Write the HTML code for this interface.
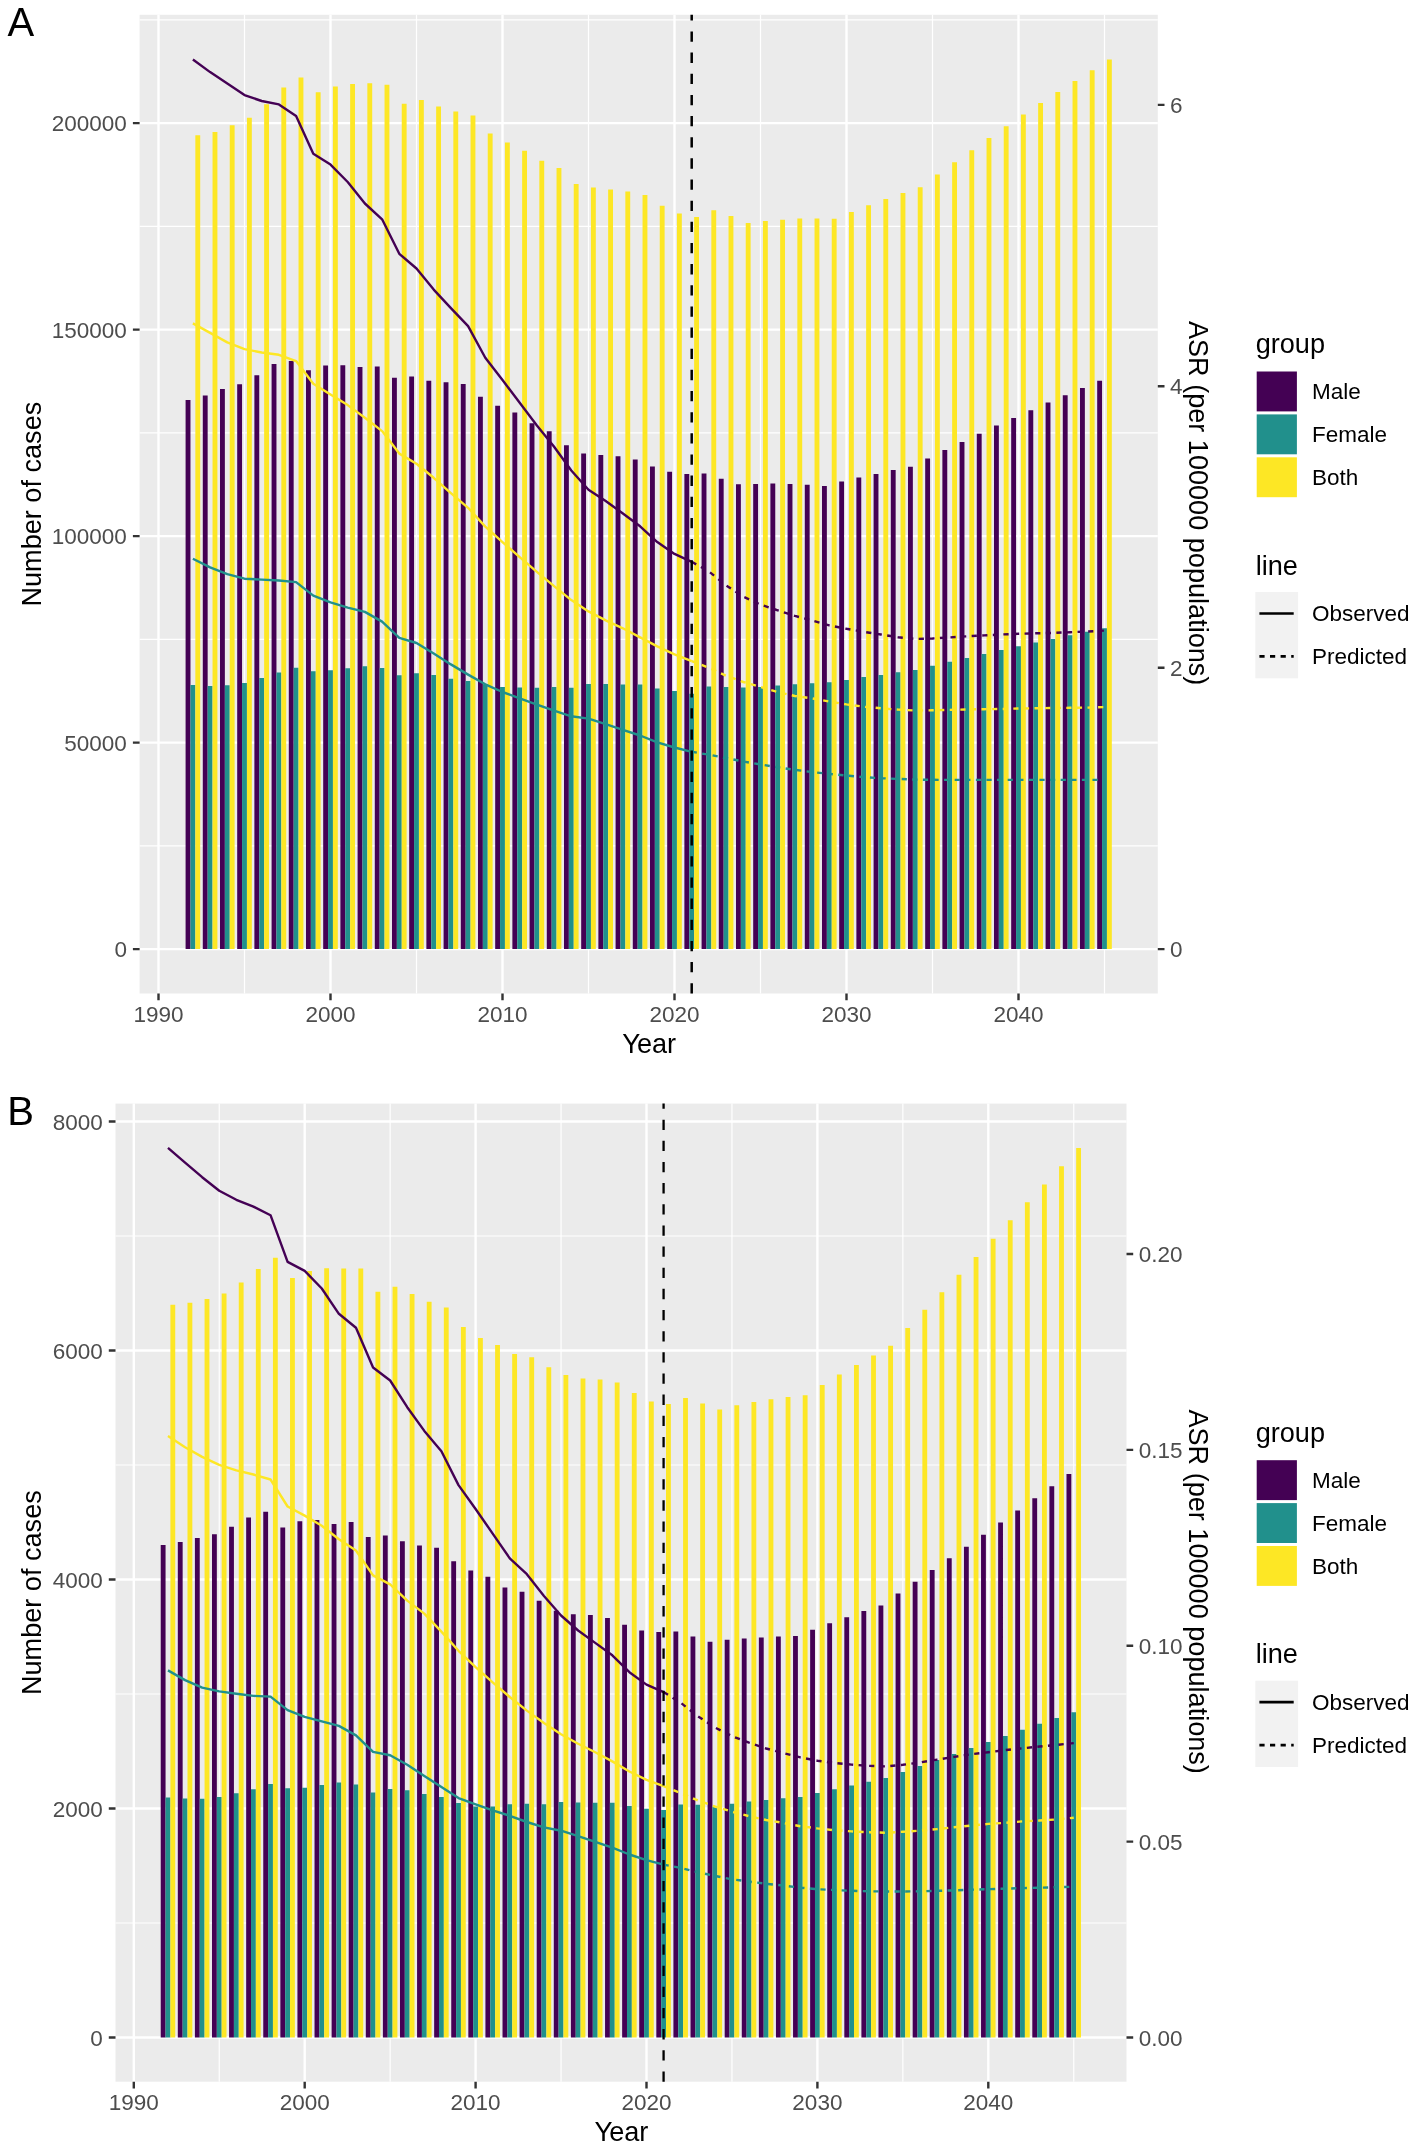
<!DOCTYPE html>
<html><head><meta charset="utf-8"><title>Figure</title>
<style>
html,body{margin:0;padding:0;background:#fff;}
svg{display:block;font-family:"Liberation Sans",sans-serif;will-change:transform;}
</style></head>
<body>
<svg width="1418" height="2153" viewBox="0 0 1418 2153">
<rect width="1418" height="2153" fill="#fff"/>
<rect x="139.6" y="14.8" width="1018.2" height="978.7" fill="#EBEBEB"/>
<path d="M139.6 845.85H1157.8M139.6 639.35H1157.8M139.6 432.85H1157.8M139.6 226.35H1157.8M139.6 19.85H1157.8M244.5 14.8V993.5M416.5 14.8V993.5M588.5 14.8V993.5M760.5 14.8V993.5M932.5 14.8V993.5M1104.5 14.8V993.5" stroke="#fff" stroke-width="1.2" fill="none"/>
<path d="M139.6 949.1H1157.8M139.6 742.6H1157.8M139.6 536.1H1157.8M139.6 329.6H1157.8M139.6 123.1H1157.8M158.5 14.8V993.5M330.5 14.8V993.5M502.5 14.8V993.5M674.5 14.8V993.5M846.5 14.8V993.5M1018.5 14.8V993.5" stroke="#fff" stroke-width="2.4" fill="none"/>
<path d="M185.59 949.1V399.9h4.87V949.1zM202.79 949.1V395.4h4.87V949.1zM219.99 949.1V389.1h4.87V949.1zM237.19 949.1V384.3h4.87V949.1zM254.39 949.1V375.3h4.87V949.1zM271.59 949.1V364h4.87V949.1zM288.79 949.1V361.1h4.87V949.1zM305.99 949.1V370.3h4.87V949.1zM323.19 949.1V365.4h4.87V949.1zM340.39 949.1V365.2h4.87V949.1zM357.59 949.1V367h4.87V949.1zM374.79 949.1V366.5h4.87V949.1zM391.99 949.1V377.8h4.87V949.1zM409.19 949.1V376.4h4.87V949.1zM426.39 949.1V380.7h4.87V949.1zM443.59 949.1V382.3h4.87V949.1zM460.79 949.1V383.9h4.87V949.1zM477.99 949.1V396.7h4.87V949.1zM495.19 949.1V405.8h4.87V949.1zM512.39 949.1V412.5h4.87V949.1zM529.59 949.1V423.2h4.87V949.1zM546.79 949.1V431.3h4.87V949.1zM563.99 949.1V445.3h4.87V949.1zM581.19 949.1V453.6h4.87V949.1zM598.39 949.1V455h4.87V949.1zM615.59 949.1V456.3h4.87V949.1zM632.79 949.1V459.5h4.87V949.1zM649.99 949.1V466.5h4.87V949.1zM667.19 949.1V471.7h4.87V949.1zM684.39 949.1V473.9h4.87V949.1zM701.59 949.1V473.5h4.87V949.1zM718.79 949.1V478.7h4.87V949.1zM735.99 949.1V484.3h4.87V949.1zM753.19 949.1V483.9h4.87V949.1zM770.39 949.1V483.6h4.87V949.1zM787.59 949.1V483.9h4.87V949.1zM804.79 949.1V484.8h4.87V949.1zM821.99 949.1V485.9h4.87V949.1zM839.19 949.1V481.6h4.87V949.1zM856.39 949.1V477.5h4.87V949.1zM873.59 949.1V473.9h4.87V949.1zM890.79 949.1V470.1h4.87V949.1zM907.99 949.1V466.7h4.87V949.1zM925.19 949.1V458.4h4.87V949.1zM942.39 949.1V450h4.87V949.1zM959.59 949.1V441.9h4.87V949.1zM976.79 949.1V433.8h4.87V949.1zM993.99 949.1V425.6h4.87V949.1zM1011.19 949.1V418h4.87V949.1zM1028.39 949.1V410.3h4.87V949.1zM1045.59 949.1V402.6h4.87V949.1zM1062.79 949.1V395.2h4.87V949.1zM1079.99 949.1V387.9h4.87V949.1zM1097.19 949.1V380.7h4.87V949.1z" fill="#440154"/>
<path d="M190.46 949.1V685h4.87V949.1zM207.66 949.1V686.1h4.87V949.1zM224.86 949.1V685.2h4.87V949.1zM242.06 949.1V682.9h4.87V949.1zM259.26 949.1V678h4.87V949.1zM276.46 949.1V672.6h4.87V949.1zM293.66 949.1V667.8h4.87V949.1zM310.86 949.1V671.2h4.87V949.1zM328.06 949.1V670.3h4.87V949.1zM345.26 949.1V668.3h4.87V949.1zM362.46 949.1V666.2h4.87V949.1zM379.66 949.1V668h4.87V949.1zM396.86 949.1V675.3h4.87V949.1zM414.06 949.1V673.2h4.87V949.1zM431.26 949.1V675h4.87V949.1zM448.46 949.1V678.7h4.87V949.1zM465.66 949.1V681.1h4.87V949.1zM482.86 949.1V684.3h4.87V949.1zM500.06 949.1V687h4.87V949.1zM517.26 949.1V687.5h4.87V949.1zM534.46 949.1V687.7h4.87V949.1zM551.66 949.1V687h4.87V949.1zM568.86 949.1V687.7h4.87V949.1zM586.06 949.1V684.1h4.87V949.1zM603.26 949.1V684.1h4.87V949.1zM620.46 949.1V684.5h4.87V949.1zM637.66 949.1V684.5h4.87V949.1zM654.86 949.1V688.6h4.87V949.1zM672.06 949.1V691.1h4.87V949.1zM689.26 949.1V693.8h4.87V949.1zM706.46 949.1V686.6h4.87V949.1zM723.66 949.1V687h4.87V949.1zM740.86 949.1V687.5h4.87V949.1zM758.06 949.1V687h4.87V949.1zM775.26 949.1V685.4h4.87V949.1zM792.46 949.1V684.3h4.87V949.1zM809.66 949.1V683.2h4.87V949.1zM826.86 949.1V682.3h4.87V949.1zM844.06 949.1V680.1h4.87V949.1zM861.26 949.1V676.9h4.87V949.1zM878.46 949.1V674.9h4.87V949.1zM895.66 949.1V672.2h4.87V949.1zM912.86 949.1V670.1h4.87V949.1zM930.06 949.1V665.8h4.87V949.1zM947.26 949.1V661.8h4.87V949.1zM964.46 949.1V657.9h4.87V949.1zM981.66 949.1V654.1h4.87V949.1zM998.86 949.1V650h4.87V949.1zM1016.06 949.1V646.2h4.87V949.1zM1033.26 949.1V642.6h4.87V949.1zM1050.46 949.1V639h4.87V949.1zM1067.66 949.1V635.2h4.87V949.1zM1084.86 949.1V631.8h4.87V949.1zM1102.06 949.1V628.2h4.87V949.1z" fill="#21908C"/>
<path d="M195.34 949.1V135.3h4.87V949.1zM212.54 949.1V132.1h4.87V949.1zM229.74 949.1V125.2h4.87V949.1zM246.94 949.1V117.7h4.87V949.1zM264.14 949.1V104.2h4.87V949.1zM281.34 949.1V87.5h4.87V949.1zM298.54 949.1V77.5h4.87V949.1zM315.74 949.1V92.2h4.87V949.1zM332.94 949.1V86.6h4.87V949.1zM350.14 949.1V83.9h4.87V949.1zM367.34 949.1V83.2h4.87V949.1zM384.54 949.1V84.8h4.87V949.1zM401.74 949.1V103.7h4.87V949.1zM418.94 949.1V100.1h4.87V949.1zM436.14 949.1V106.6h4.87V949.1zM453.34 949.1V111.4h4.87V949.1zM470.54 949.1V115.4h4.87V949.1zM487.74 949.1V133.5h4.87V949.1zM504.94 949.1V142.5h4.87V949.1zM522.14 949.1V150.7h4.87V949.1zM539.34 949.1V160.8h4.87V949.1zM556.54 949.1V168h4.87V949.1zM573.74 949.1V184.1h4.87V949.1zM590.94 949.1V187.4h4.87V949.1zM608.14 949.1V189.5h4.87V949.1zM625.34 949.1V191.5h4.87V949.1zM642.54 949.1V194.9h4.87V949.1zM659.74 949.1V205.7h4.87V949.1zM676.94 949.1V213.6h4.87V949.1zM694.14 949.1V217h4.87V949.1zM711.34 949.1V210.2h4.87V949.1zM728.54 949.1V216.1h4.87V949.1zM745.74 949.1V222.9h4.87V949.1zM762.94 949.1V221.1h4.87V949.1zM780.14 949.1V219.7h4.87V949.1zM797.34 949.1V218.6h4.87V949.1zM814.54 949.1V218.6h4.87V949.1zM831.74 949.1V218.8h4.87V949.1zM848.94 949.1V212h4.87V949.1zM866.14 949.1V205.3h4.87V949.1zM883.34 949.1V199h4.87V949.1zM900.54 949.1V192.9h4.87V949.1zM917.74 949.1V187.2h4.87V949.1zM934.94 949.1V174.6h4.87V949.1zM952.14 949.1V162.2h4.87V949.1zM969.34 949.1V150.2h4.87V949.1zM986.54 949.1V138h4.87V949.1zM1003.74 949.1V126.3h4.87V949.1zM1020.94 949.1V114.5h4.87V949.1zM1038.14 949.1V103h4.87V949.1zM1055.34 949.1V92h4.87V949.1zM1072.54 949.1V81.1h4.87V949.1zM1089.74 949.1V70.3h4.87V949.1zM1106.94 949.1V59.5h4.87V949.1z" fill="#FDE725"/>
<polyline points="192.9,59.5 210.1,72.1 227.3,83.4 244.5,95.1 261.7,101 278.9,104.4 296.1,116.1 313.3,153.8 330.5,164.6 347.7,182 364.9,203.5 382.1,219.3 399.3,253.8 416.5,268.5 433.7,289.6 450.9,308.1 468.1,326.1 485.3,357.7 502.5,380 519.7,402.8 536.9,425.4 554.1,446.8 571.3,470.5 588.5,489.7 605.7,501 622.9,513.5 640.1,526.3 657.3,542.1 674.5,553.9 691.7,561.8" fill="none" stroke="#440154" stroke-width="2.4" stroke-linejoin="round"/>
<polyline points="691.7,561.8 708.9,571.5 726.1,585.4 743.3,596.7 760.5,604.6 777.7,610.3 794.9,615.9 812.1,620.5 829.3,625.4 846.5,628.8 863.7,631.8 880.9,634.5 898.1,637.2 915.3,639 932.5,638.5 949.7,637.4 966.9,636.3 984.1,635.4 1001.3,634.5 1018.5,633.8 1035.7,633.3 1052.9,632.9 1070.1,632.2 1087.3,631.5 1104.5,630.6" fill="none" stroke="#440154" stroke-width="2.4" stroke-dasharray="5.2 5.4" stroke-linejoin="round"/>
<polyline points="192.9,558.8 210.1,567.4 227.3,574.2 244.5,578.7 261.7,579.6 278.9,580.5 296.1,582.1 313.3,595.6 330.5,602.4 347.7,607.6 364.9,611.9 382.1,621.6 399.3,637.8 416.5,643 433.7,653.6 450.9,664.4 468.1,674.6 485.3,684.3 502.5,692 519.7,698.3 536.9,704.6 554.1,710.7 571.3,716.3 588.5,718.6 605.7,724.2 622.9,729.9 640.1,735.5 657.3,742.3 674.5,747.5 691.7,751.8" fill="none" stroke="#21908C" stroke-width="2.4" stroke-linejoin="round"/>
<polyline points="691.7,751.8 708.9,754.7 726.1,758.1 743.3,761.5 760.5,764.5 777.7,767.3 794.9,769.8 812.1,772.1 829.3,773.9 846.5,775.5 863.7,777.1 880.9,778.2 898.1,778.9 915.3,779.6 932.5,779.8 949.7,779.9 966.9,779.9 984.1,779.9 1001.3,779.9 1018.5,779.9 1035.7,779.9 1052.9,779.9 1070.1,779.9 1087.3,779.9 1104.5,779.9" fill="none" stroke="#21908C" stroke-width="2.4" stroke-dasharray="5.2 5.4" stroke-linejoin="round"/>
<polyline points="192.9,323.4 210.1,332.9 227.3,342.4 244.5,349.1 261.7,352.5 278.9,354.8 296.1,361.1 313.3,383.7 330.5,394.5 347.7,405.1 364.9,417.7 382.1,431.1 399.3,453.6 416.5,463.8 433.7,477.8 450.9,493.1 468.1,507.8 485.3,526.6 502.5,542.1 519.7,557.2 536.9,571.9 554.1,586.1 571.3,600.1 588.5,611.4 605.7,620.4 622.9,628.3 640.1,637.4 657.3,646.4 674.5,654.3 691.7,661.1" fill="none" stroke="#FDE725" stroke-width="2.4" stroke-linejoin="round"/>
<polyline points="691.7,661.1 708.9,667.8 726.1,675.7 743.3,682 760.5,687 777.7,692 794.9,696 812.1,698.4 829.3,701.5 846.5,704.4 863.7,706.7 880.9,708.3 898.1,709.6 915.3,710.5 932.5,710.3 949.7,709.9 966.9,709.4 984.1,709.2 1001.3,709 1018.5,708.5 1035.7,708.3 1052.9,708 1070.1,707.8 1087.3,707.6 1104.5,707.1" fill="none" stroke="#FDE725" stroke-width="2.4" stroke-dasharray="5.2 5.4" stroke-linejoin="round"/>
<path d="M691.7 993.5V14.8" stroke="#000" stroke-width="2.5" stroke-dasharray="10.3 10.85" fill="none"/>
<path d="M132.9 949.1H139.6M132.9 742.6H139.6M132.9 536.1H139.6M132.9 329.6H139.6M132.9 123.1H139.6M1157.8 949.1H1164.5M1157.8 667.7H1164.5M1157.8 386.3H1164.5M1157.8 104.9H1164.5M158.5 993.5V1000.2M330.5 993.5V1000.2M502.5 993.5V1000.2M674.5 993.5V1000.2M846.5 993.5V1000.2M1018.5 993.5V1000.2" stroke="#333" stroke-width="2.4" fill="none"/>
<g font-size="22.5" fill="#4D4D4D">
<text x="126.9" y="957.15" text-anchor="end">0</text>
<text x="126.9" y="750.65" text-anchor="end">50000</text>
<text x="126.9" y="544.15" text-anchor="end">100000</text>
<text x="126.9" y="337.65" text-anchor="end">150000</text>
<text x="126.9" y="131.15" text-anchor="end">200000</text>
<text x="1170" y="957.15">0</text>
<text x="1170" y="675.75">2</text>
<text x="1170" y="394.35">4</text>
<text x="1170" y="112.95">6</text>
<text x="158.5" y="1021.8" text-anchor="middle">1990</text>
<text x="330.5" y="1021.8" text-anchor="middle">2000</text>
<text x="502.5" y="1021.8" text-anchor="middle">2010</text>
<text x="674.5" y="1021.8" text-anchor="middle">2020</text>
<text x="846.5" y="1021.8" text-anchor="middle">2030</text>
<text x="1018.5" y="1021.8" text-anchor="middle">2040</text>
</g>
<text x="649.2" y="1052.8" text-anchor="middle" font-size="27.1">Y<tspan dx="-1">ear</tspan></text>
<text transform="translate(40.6 504.15) rotate(-90)" text-anchor="middle" font-size="27.1">Number of cases</text>
<text transform="translate(1189.2 503.15) rotate(90)" text-anchor="middle" font-size="27.1">ASR (per 100000 populations)</text>
<text x="1255.7" y="353" font-size="27.1">group</text>
<rect x="1256.7" y="371.5" width="40.2" height="39.9" fill="#440154"/>
<text x="1311.9" y="399.4" font-size="22.5">Male</text>
<rect x="1256.7" y="414.4" width="40.2" height="39.9" fill="#21908C"/>
<text x="1311.9" y="442.3" font-size="22.5">Female</text>
<rect x="1256.7" y="457.3" width="40.2" height="39.9" fill="#FDE725"/>
<text x="1311.9" y="485.2" font-size="22.5">Both</text>
<text x="1255.7" y="574.5" font-size="27.1">line</text>
<rect x="1255.3" y="592" width="42.8" height="86.3" fill="#F2F2F2"/>
<path d="M1259.4 613.5H1293.7" stroke="#000" stroke-width="2.7"/>
<path d="M1259.4 656.4H1293.7" stroke="#000" stroke-width="2.7" stroke-dasharray="5.2 5.4"/>
<text x="1311.9" y="621.1" font-size="22.5">Observed</text>
<text x="1311.9" y="664.1" font-size="22.5">Predicted</text>
<text x="7.6" y="36.3" font-size="40">A</text>
<rect x="115.5" y="1103.6" width="1011" height="978.1" fill="#EBEBEB"/>
<path d="M115.5 1923H1126.5M115.5 1694H1126.5M115.5 1465H1126.5M115.5 1236H1126.5M219.25 1103.6V2081.7M390.15 1103.6V2081.7M561.05 1103.6V2081.7M731.95 1103.6V2081.7M902.85 1103.6V2081.7M1073.75 1103.6V2081.7" stroke="#fff" stroke-width="1.2" fill="none"/>
<path d="M115.5 2037.5H1126.5M115.5 1808.5H1126.5M115.5 1579.5H1126.5M115.5 1350.5H1126.5M115.5 1121.5H1126.5M133.8 1103.6V2081.7M304.7 1103.6V2081.7M475.6 1103.6V2081.7M646.5 1103.6V2081.7M817.4 1103.6V2081.7M988.3 1103.6V2081.7" stroke="#fff" stroke-width="2.4" fill="none"/>
<path d="M160.72 2037.5V1544.9h4.84V2037.5zM177.81 2037.5V1542h4.84V2037.5zM194.9 2037.5V1537.9h4.84V2037.5zM211.99 2037.5V1534.3h4.84V2037.5zM229.08 2037.5V1526.8h4.84V2037.5zM246.17 2037.5V1517.6h4.84V2037.5zM263.26 2037.5V1511.7h4.84V2037.5zM280.35 2037.5V1527.5h4.84V2037.5zM297.44 2037.5V1521.2h4.84V2037.5zM314.53 2037.5V1520.1h4.84V2037.5zM331.62 2037.5V1523.9h4.84V2037.5zM348.71 2037.5V1522.1h4.84V2037.5zM365.8 2037.5V1537h4.84V2037.5zM382.89 2037.5V1535.4h4.84V2037.5zM399.98 2037.5V1541.3h4.84V2037.5zM417.07 2037.5V1545.4h4.84V2037.5zM434.16 2037.5V1547.8h4.84V2037.5zM451.25 2037.5V1561.2h4.84V2037.5zM468.34 2037.5V1570.4h4.84V2037.5zM485.43 2037.5V1576.7h4.84V2037.5zM502.52 2037.5V1587.6h4.84V2037.5zM519.61 2037.5V1591.8h4.84V2037.5zM536.7 2037.5V1600.8h4.84V2037.5zM553.79 2037.5V1610.8h4.84V2037.5zM570.88 2037.5V1614.2h4.84V2037.5zM587.97 2037.5V1615.1h4.84V2037.5zM605.06 2037.5V1618.1h4.84V2037.5zM622.15 2037.5V1624.8h4.84V2037.5zM639.24 2037.5V1630.5h4.84V2037.5zM656.33 2037.5V1632h4.84V2037.5zM673.42 2037.5V1631.6h4.84V2037.5zM690.51 2037.5V1636.6h4.84V2037.5zM707.6 2037.5V1641.8h4.84V2037.5zM724.69 2037.5V1639.7h4.84V2037.5zM741.78 2037.5V1638.4h4.84V2037.5zM758.87 2037.5V1637.5h4.84V2037.5zM775.96 2037.5V1636.5h4.84V2037.5zM793.05 2037.5V1636h4.84V2037.5zM810.14 2037.5V1629.7h4.84V2037.5zM827.23 2037.5V1623.3h4.84V2037.5zM844.32 2037.5V1617.2h4.84V2037.5zM861.41 2037.5V1611.1h4.84V2037.5zM878.5 2037.5V1605.5h4.84V2037.5zM895.59 2037.5V1593.5h4.84V2037.5zM912.68 2037.5V1581.8h4.84V2037.5zM929.77 2037.5V1570h4.84V2037.5zM946.86 2037.5V1558.2h4.84V2037.5zM963.95 2037.5V1546.7h4.84V2037.5zM981.04 2037.5V1534.8h4.84V2037.5zM998.13 2037.5V1522.6h4.84V2037.5zM1015.22 2037.5V1510.4h4.84V2037.5zM1032.31 2037.5V1498.2h4.84V2037.5zM1049.4 2037.5V1486.2h4.84V2037.5zM1066.49 2037.5V1474h4.84V2037.5z" fill="#440154"/>
<path d="M165.56 2037.5V1797.5h4.84V2037.5zM182.65 2037.5V1798.6h4.84V2037.5zM199.74 2037.5V1798.8h4.84V2037.5zM216.83 2037.5V1797h4.84V2037.5zM233.92 2037.5V1793.2h4.84V2037.5zM251.01 2037.5V1789.3h4.84V2037.5zM268.1 2037.5V1783.9h4.84V2037.5zM285.19 2037.5V1788.2h4.84V2037.5zM302.28 2037.5V1787.8h4.84V2037.5zM319.37 2037.5V1785.1h4.84V2037.5zM336.46 2037.5V1782.4h4.84V2037.5zM353.55 2037.5V1784.4h4.84V2037.5zM370.64 2037.5V1792.5h4.84V2037.5zM387.73 2037.5V1789.1h4.84V2037.5zM404.82 2037.5V1790.2h4.84V2037.5zM421.91 2037.5V1794.1h4.84V2037.5zM439 2037.5V1797h4.84V2037.5zM456.09 2037.5V1803.1h4.84V2037.5zM473.18 2037.5V1806.5h4.84V2037.5zM490.27 2037.5V1806.5h4.84V2037.5zM507.36 2037.5V1804.2h4.84V2037.5zM524.45 2037.5V1803.8h4.84V2037.5zM541.54 2037.5V1804.2h4.84V2037.5zM558.63 2037.5V1802h4.84V2037.5zM575.72 2037.5V1802.4h4.84V2037.5zM592.81 2037.5V1802.7h4.84V2037.5zM609.9 2037.5V1802.7h4.84V2037.5zM626.99 2037.5V1806.1h4.84V2037.5zM644.08 2037.5V1808.8h4.84V2037.5zM661.17 2037.5V1809.9h4.84V2037.5zM678.26 2037.5V1804.5h4.84V2037.5zM695.35 2037.5V1804.7h4.84V2037.5zM712.44 2037.5V1806.5h4.84V2037.5zM729.53 2037.5V1803.8h4.84V2037.5zM746.62 2037.5V1801.5h4.84V2037.5zM763.71 2037.5V1800h4.84V2037.5zM780.8 2037.5V1798.3h4.84V2037.5zM797.89 2037.5V1796.9h4.84V2037.5zM814.98 2037.5V1793h4.84V2037.5zM832.07 2037.5V1789.2h4.84V2037.5zM849.16 2037.5V1785.6h4.84V2037.5zM866.25 2037.5V1781.7h4.84V2037.5zM883.34 2037.5V1778.1h4.84V2037.5zM900.43 2037.5V1772h4.84V2037.5zM917.52 2037.5V1765.9h4.84V2037.5zM934.61 2037.5V1760.1h4.84V2037.5zM951.7 2037.5V1754h4.84V2037.5zM968.79 2037.5V1747.9h4.84V2037.5zM985.88 2037.5V1742h4.84V2037.5zM1002.97 2037.5V1735.9h4.84V2037.5zM1020.06 2037.5V1729.8h4.84V2037.5zM1037.15 2037.5V1723.7h4.84V2037.5zM1054.24 2037.5V1717.9h4.84V2037.5zM1071.33 2037.5V1712.2h4.84V2037.5z" fill="#21908C"/>
<path d="M170.4 2037.5V1304.7h4.84V2037.5zM187.49 2037.5V1302.7h4.84V2037.5zM204.58 2037.5V1299.1h4.84V2037.5zM221.67 2037.5V1293.5h4.84V2037.5zM238.76 2037.5V1282.6h4.84V2037.5zM255.85 2037.5V1269.1h4.84V2037.5zM272.94 2037.5V1257.8h4.84V2037.5zM290.03 2037.5V1278.1h4.84V2037.5zM307.12 2037.5V1270.9h4.84V2037.5zM324.21 2037.5V1268.2h4.84V2037.5zM341.3 2037.5V1268.6h4.84V2037.5zM358.39 2037.5V1268.4h4.84V2037.5zM375.48 2037.5V1291.7h4.84V2037.5zM392.57 2037.5V1286.7h4.84V2037.5zM409.66 2037.5V1294.1h4.84V2037.5zM426.75 2037.5V1301.8h4.84V2037.5zM443.84 2037.5V1307.5h4.84V2037.5zM460.93 2037.5V1326.9h4.84V2037.5zM478.02 2037.5V1337.9h4.84V2037.5zM495.11 2037.5V1345.1h4.84V2037.5zM512.2 2037.5V1353.9h4.84V2037.5zM529.29 2037.5V1357.3h4.84V2037.5zM546.38 2037.5V1367.3h4.84V2037.5zM563.47 2037.5V1375.1h4.84V2037.5zM580.56 2037.5V1378.5h4.84V2037.5zM597.65 2037.5V1379.5h4.84V2037.5zM614.74 2037.5V1382.4h4.84V2037.5zM631.83 2037.5V1393h4.84V2037.5zM648.92 2037.5V1401.6h4.84V2037.5zM666.01 2037.5V1403.9h4.84V2037.5zM683.1 2037.5V1398h4.84V2037.5zM700.19 2037.5V1403.6h4.84V2037.5zM717.28 2037.5V1409.5h4.84V2037.5zM734.37 2037.5V1405.2h4.84V2037.5zM751.46 2037.5V1402h4.84V2037.5zM768.55 2037.5V1399.3h4.84V2037.5zM785.64 2037.5V1397.1h4.84V2037.5zM802.73 2037.5V1395.3h4.84V2037.5zM819.82 2037.5V1384.9h4.84V2037.5zM836.91 2037.5V1374.6h4.84V2037.5zM854 2037.5V1365h4.84V2037.5zM871.09 2037.5V1355.5h4.84V2037.5zM888.18 2037.5V1345.8h4.84V2037.5zM905.27 2037.5V1328h4.84V2037.5zM922.36 2037.5V1309.7h4.84V2037.5zM939.45 2037.5V1292.3h4.84V2037.5zM956.54 2037.5V1274.7h4.84V2037.5zM973.63 2037.5V1256.9h4.84V2037.5zM990.72 2037.5V1238.8h4.84V2037.5zM1007.81 2037.5V1220.3h4.84V2037.5zM1024.9 2037.5V1202.3h4.84V2037.5zM1041.99 2037.5V1184.5h4.84V2037.5zM1059.08 2037.5V1166.2h4.84V2037.5zM1076.17 2037.5V1148.1h4.84V2037.5z" fill="#FDE725"/>
<polyline points="167.98,1147.9 185.07,1162.6 202.16,1177.2 219.25,1190.8 236.34,1199.8 253.43,1206.6 270.52,1215.2 287.61,1261.9 304.7,1270.9 321.79,1288.5 338.88,1313.8 355.97,1327.8 373.06,1367.5 390.15,1380.5 407.24,1407.2 424.33,1430.9 441.42,1451.2 458.51,1485.1 475.6,1509 492.69,1533.6 509.78,1558.4 526.87,1574.2 543.96,1596 561.05,1615.5 578.14,1630.5 595.23,1642.9 612.32,1655.3 629.41,1672.2 646.5,1684.6 663.59,1692.1" fill="none" stroke="#440154" stroke-width="2.4" stroke-linejoin="round"/>
<polyline points="663.59,1692.1 680.68,1702.7 697.77,1716.2 714.86,1727.5 731.95,1736.1 749.04,1742.6 766.13,1748.5 783.22,1753 800.31,1757.4 817.4,1760.7 834.49,1763 851.58,1764.6 868.67,1765.9 885.76,1766.4 902.85,1764.8 919.94,1762.5 937.03,1759.6 954.12,1756.9 971.21,1754.2 988.3,1752.2 1005.39,1750.1 1022.48,1748.3 1039.57,1746.5 1056.66,1744.9 1073.75,1743.1" fill="none" stroke="#440154" stroke-width="2.4" stroke-dasharray="5.2 5.4" stroke-linejoin="round"/>
<polyline points="167.98,1670.4 185.07,1680.1 202.16,1687.6 219.25,1691.4 236.34,1693.7 253.43,1695.9 270.52,1696.6 287.61,1710.1 304.7,1716.9 321.79,1721.4 338.88,1725.9 355.97,1735.4 373.06,1751.9 390.15,1755.3 407.24,1764.7 424.33,1776 441.42,1786.9 458.51,1798.1 475.6,1804.4 492.69,1810.3 509.78,1815.8 526.87,1822 543.96,1827.4 561.05,1830.7 578.14,1836.2 595.23,1841.8 612.32,1847.7 629.41,1854.5 646.5,1860.1 663.59,1864.6" fill="none" stroke="#21908C" stroke-width="2.4" stroke-linejoin="round"/>
<polyline points="663.59,1864.6 680.68,1868 697.77,1872.1 714.86,1875.9 731.95,1879.3 749.04,1881.6 766.13,1883.8 783.22,1885.5 800.31,1887.7 817.4,1889.2 834.49,1890.1 851.58,1890.8 868.67,1891.3 885.76,1891.5 902.85,1891.5 919.94,1891.3 937.03,1890.8 954.12,1890.4 971.21,1889.7 988.3,1889.2 1005.39,1888.6 1022.48,1888.1 1039.57,1887.7 1056.66,1887.2 1073.75,1886.7" fill="none" stroke="#21908C" stroke-width="2.4" stroke-dasharray="5.2 5.4" stroke-linejoin="round"/>
<polyline points="167.98,1435.9 185.07,1447.2 202.16,1456.9 219.25,1464.8 236.34,1470.4 253.43,1474.5 270.52,1479.5 287.61,1506.5 304.7,1515.6 321.79,1525.7 338.88,1539.3 355.97,1550.5 373.06,1575.4 390.15,1584.4 407.24,1600.6 424.33,1613.6 441.42,1631.6 458.51,1650.8 475.6,1667.1 492.69,1682.4 509.78,1697 526.87,1710.6 543.96,1723 561.05,1734.3 578.14,1743.8 595.23,1752.3 612.32,1761.4 629.41,1771.5 646.5,1779.9 663.59,1786.2" fill="none" stroke="#FDE725" stroke-width="2.4" stroke-linejoin="round"/>
<polyline points="663.59,1786.2 680.68,1793 697.77,1800.4 714.86,1806.5 731.95,1811.7 749.04,1816.2 766.13,1820 783.22,1822.9 800.31,1826.2 817.4,1828.4 834.49,1830.2 851.58,1831.4 868.67,1832.3 885.76,1832.7 902.85,1831.8 919.94,1830.7 937.03,1829.1 954.12,1827.3 971.21,1825.5 988.3,1823.9 1005.39,1822.8 1022.48,1821.4 1039.57,1820.5 1056.66,1819.4 1073.75,1817.8" fill="none" stroke="#FDE725" stroke-width="2.4" stroke-dasharray="5.2 5.4" stroke-linejoin="round"/>
<path d="M663.59 2081.7V1103.6" stroke="#000" stroke-width="2.3" stroke-dasharray="10.3 10.85" fill="none"/>
<path d="M108.8 2037.5H115.5M108.8 1808.5H115.5M108.8 1579.5H115.5M108.8 1350.5H115.5M108.8 1121.5H115.5M1126.5 2037.5H1133.2M1126.5 1841.62H1133.2M1126.5 1645.75H1133.2M1126.5 1449.88H1133.2M1126.5 1254H1133.2M133.8 2081.7V2088.4M304.7 2081.7V2088.4M475.6 2081.7V2088.4M646.5 2081.7V2088.4M817.4 2081.7V2088.4M988.3 2081.7V2088.4" stroke="#333" stroke-width="2.4" fill="none"/>
<g font-size="22.5" fill="#4D4D4D">
<text x="102.8" y="2045.55" text-anchor="end">0</text>
<text x="102.8" y="1816.55" text-anchor="end">2000</text>
<text x="102.8" y="1587.55" text-anchor="end">4000</text>
<text x="102.8" y="1358.55" text-anchor="end">6000</text>
<text x="102.8" y="1129.55" text-anchor="end">8000</text>
<text x="1138.7" y="2045.55">0.00</text>
<text x="1138.7" y="1849.67">0.05</text>
<text x="1138.7" y="1653.8">0.10</text>
<text x="1138.7" y="1457.92">0.15</text>
<text x="1138.7" y="1262.05">0.20</text>
<text x="133.8" y="2110" text-anchor="middle">1990</text>
<text x="304.7" y="2110" text-anchor="middle">2000</text>
<text x="475.6" y="2110" text-anchor="middle">2010</text>
<text x="646.5" y="2110" text-anchor="middle">2020</text>
<text x="817.4" y="2110" text-anchor="middle">2030</text>
<text x="988.3" y="2110" text-anchor="middle">2040</text>
</g>
<text x="621.5" y="2141" text-anchor="middle" font-size="27.1">Y<tspan dx="-1">ear</tspan></text>
<text transform="translate(40.6 1592.65) rotate(-90)" text-anchor="middle" font-size="27.1">Number of cases</text>
<text transform="translate(1189.2 1591.65) rotate(90)" text-anchor="middle" font-size="27.1">ASR (per 100000 populations)</text>
<text x="1255.7" y="1441.7" font-size="27.1">group</text>
<rect x="1256.7" y="1460.2" width="40.2" height="39.9" fill="#440154"/>
<text x="1311.9" y="1488.1" font-size="22.5">Male</text>
<rect x="1256.7" y="1503.1" width="40.2" height="39.9" fill="#21908C"/>
<text x="1311.9" y="1531" font-size="22.5">Female</text>
<rect x="1256.7" y="1546" width="40.2" height="39.9" fill="#FDE725"/>
<text x="1311.9" y="1573.9" font-size="22.5">Both</text>
<text x="1255.7" y="1663.2" font-size="27.1">line</text>
<rect x="1255.3" y="1680.7" width="42.8" height="86.3" fill="#F2F2F2"/>
<path d="M1259.4 1702.2H1293.7" stroke="#000" stroke-width="2.7"/>
<path d="M1259.4 1745.1H1293.7" stroke="#000" stroke-width="2.7" stroke-dasharray="5.2 5.4"/>
<text x="1311.9" y="1709.8" font-size="22.5">Observed</text>
<text x="1311.9" y="1752.8" font-size="22.5">Predicted</text>
<text x="7.2" y="1125.3" font-size="40">B</text>
</svg>
</body></html>
